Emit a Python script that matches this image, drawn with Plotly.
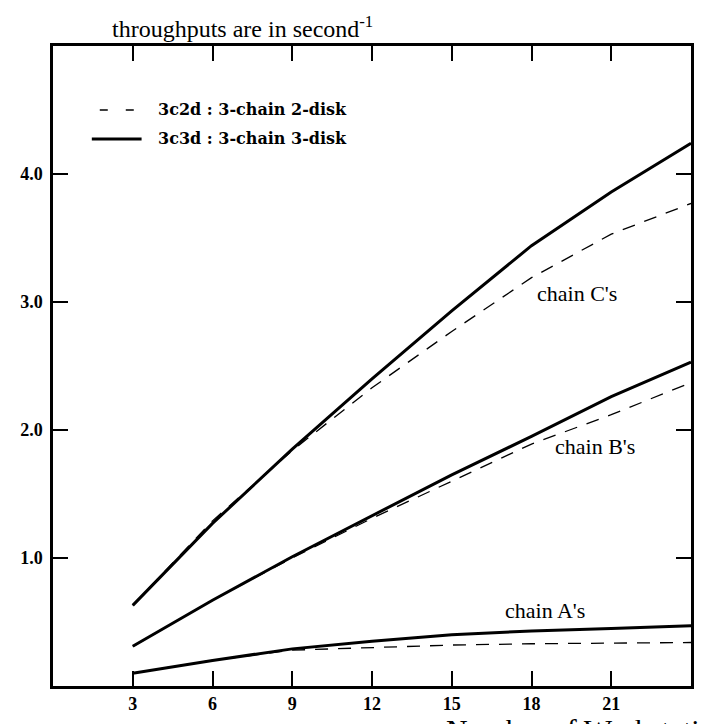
import plotly.graph_objects as go

# ---- data (throughput, second^-1) ----
workstations = [3, 6, 9, 12, 15, 18, 21, 24]
c3d_chainC = [0.63, 1.27, 1.85, 2.40, 2.93, 3.44, 3.86, 4.24]
c2d_chainC = [0.63, 1.29, 1.84, 2.33, 2.77, 3.19, 3.53, 3.77]
c3d_chainB = [0.31, 0.67, 1.01, 1.33, 1.65, 1.95, 2.26, 2.53]
c2d_chainB = [0.31, 0.67, 1.00, 1.31, 1.60, 1.89, 2.12, 2.37]
c3d_chainA = [0.10, 0.20, 0.29, 0.35, 0.40, 0.43, 0.45, 0.47]
c2d_chainA = [0.10, 0.20, 0.28, 0.30, 0.32, 0.33, 0.335, 0.34]

x_ticks = [3, 6, 9, 12, 15, 18, 21]
y_ticks = [1.0, 2.0, 3.0, 4.0]
y_tick_text = ["1.0", "2.0", "3.0", "4.0"]

chain_labels = ["chain C's", "chain B's", "chain A's"]
chain_label_x = [19.7, 20.4, 18.5]
chain_label_y = [3.07, 1.87, 0.59]

legend_names = ["3c2d : 3-chain 2-disk", "3c3d : 3-chain 3-disk"]

SERIF = "Liberation Serif"
BOLD_SERIF = "DejaVu Serif"

fig = go.Figure()

solid = dict(color="black", width=3)
dashed = dict(color="black", width=1.3, dash="13px,10px")

for ys in (c3d_chainC, c3d_chainB, c3d_chainA):
    fig.add_trace(go.Scatter(x=workstations, y=ys, mode="lines", line=solid,
                             showlegend=False, hoverinfo="skip"))
for ys in (c2d_chainC, c2d_chainB, c2d_chainA):
    fig.add_trace(go.Scatter(x=workstations, y=ys, mode="lines", line=dashed,
                             showlegend=False, hoverinfo="skip"))

# chain labels
for t, lx, ly in zip(chain_labels, chain_label_x, chain_label_y):
    fig.add_annotation(x=lx, y=ly, xref="x", yref="y", text=t, showarrow=False,
                       font=dict(family=SERIF, size=22, color="black"))

# ---- layout geometry ----
W, H = 702, 724
L, R, T, B = 53, 8, 46, 38
pw, ph = W - L - R, H - T - B

def px2paper_x(px):
    return (px - L) / pw

def px2paper_y(py):
    return (H - B - py) / ph

# legend (drawn manually to match the original's key)
leg_rows = [110, 139]
fig.add_shape(type="line", xref="paper", yref="paper",
              x0=px2paper_x(100), x1=px2paper_x(142),
              y0=px2paper_y(leg_rows[0]), y1=px2paper_y(leg_rows[0]),
              line=dict(color="black", width=1.5, dash="8px,18px"))
fig.add_shape(type="line", xref="paper", yref="paper",
              x0=px2paper_x(92), x1=px2paper_x(142),
              y0=px2paper_y(leg_rows[1]), y1=px2paper_y(leg_rows[1]),
              line=dict(color="black", width=3))
for name, ry in zip(legend_names, leg_rows):
    fig.add_annotation(x=px2paper_x(156), y=px2paper_y(ry), xref="paper", yref="paper",
                       xanchor="left", yanchor="middle", showarrow=False,
                       text="<b>%s</b>" % name,
                       font=dict(family=BOLD_SERIF, size=16, color="black"))

# top title
fig.add_annotation(x=px2paper_x(110), y=px2paper_y(44), xref="paper", yref="paper",
                   xanchor="left", yanchor="bottom", showarrow=False,
                   text="throughputs are in second<sup>-1</sup>",
                   font=dict(family=SERIF, size=24, color="black"))

# x-axis title (partly cut by the page edge, as in the original)
fig.add_annotation(x=px2paper_x(446), y=px2paper_y(729), xref="paper", yref="paper",
                   xanchor="left", yanchor="middle", showarrow=False,
                   text="Number of Workstations",
                   font=dict(family=SERIF, size=30, color="black"))

axis_common = dict(showgrid=False, zeroline=False, showline=True, linecolor="black",
                   linewidth=2.5, mirror="ticks", ticks="inside", ticklen=15,
                   tickwidth=2, tickcolor="black")

fig.update_xaxes(range=[0, 24], tickmode="array", tickvals=x_ticks,
                 ticktext=["<b>%d</b>" % v for v in x_ticks],
                 tickfont=dict(family=SERIF, size=18, color="black"),
                 ticklabelstandoff=0, **axis_common)
fig.update_yaxes(range=[0, 5], tickmode="array", tickvals=y_ticks,
                 ticktext=["<b>%s</b>" % s for s in y_tick_text],
                 tickfont=dict(family=SERIF, size=18, color="black"),
                 ticklabelstandoff=4, **axis_common)

fig.update_layout(width=W, height=H, margin=dict(l=L, r=R, t=T, b=B),
                  paper_bgcolor="white", plot_bgcolor="white", showlegend=False)

fig.write_html("out.html")
